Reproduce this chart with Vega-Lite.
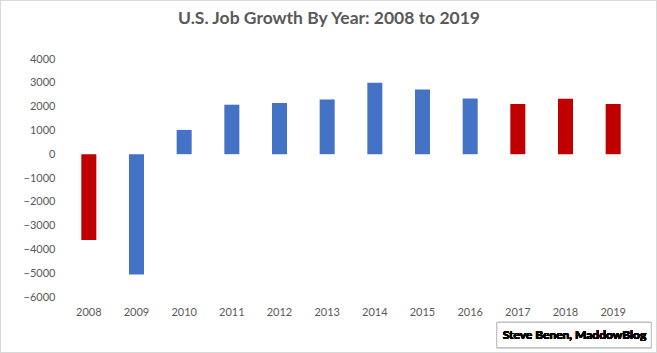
{
  "$schema": "https://vega.github.io/schema/vega-lite/v6.json",
  "autosize": {"type": "none"},
  "width": 572,
  "height": 238,
  "padding": {"left": 65, "top": 59, "right": 20, "bottom": 56},
  "background": "white",
  "config": {
    "view": {"stroke": null},
    "font": "Lato",
    "axis": {"labelFont": "Lato", "labelColor": "#595959", "labelFontSize": 11, "domain": false, "ticks": false, "title": null, "labelOverlap": false}
  },
  "title": {
    "text": "U.S. Job Growth By Year: 2008 to 2019",
    "font": "Lato",
    "fontSize": 17.5,
    "fontWeight": "bold",
    "color": "#595959",
    "anchor": "middle",
    "frame": "group",
    "dx": -22,
    "offset": -28
  },
  "data": {
    "values": [
      {"year": 2008, "jobs": -3600, "party": "Republican"},
      {"year": 2009, "jobs": -5050, "party": "Democratic"},
      {"year": 2010, "jobs": 1020, "party": "Democratic"},
      {"year": 2011, "jobs": 2080, "party": "Democratic"},
      {"year": 2012, "jobs": 2150, "party": "Democratic"},
      {"year": 2013, "jobs": 2300, "party": "Democratic"},
      {"year": 2014, "jobs": 3000, "party": "Democratic"},
      {"year": 2015, "jobs": 2720, "party": "Democratic"},
      {"year": 2016, "jobs": 2340, "party": "Democratic"},
      {"year": 2017, "jobs": 2110, "party": "Republican"},
      {"year": 2018, "jobs": 2330, "party": "Republican"},
      {"year": 2019, "jobs": 2110, "party": "Republican"}
    ]
  },
  "layer": [
    {
      "mark": {"type": "rect", "fill": null, "stroke": "#D9D9D9", "strokeWidth": 1, "clip": false},
      "encoding": {
        "x": {"datum": 2008, "type": "ordinal", "bandPosition": -5.383, "axis": {"labelAngle": 0, "labelPadding": 9}},
        "x2": {"datum": 2019, "bandPosition": 3.386},
        "y": {"datum": 6458, "type": "quantitative", "axis": {"values": [-6000, -5000, -4000, -3000, -2000, -1000, 0, 1000, 2000, 3000, 4000], "gridColor": "#D9D9D9", "gridWidth": 1, "labelPadding": 10, "format": "d"}},
        "y2": {"datum": -8332}
      }
    },
    {
      "mark": {"type": "bar"},
      "encoding": {
        "x": {
          "field": "year",
          "type": "ordinal",
          "scale": {"paddingInner": 0.685, "paddingOuter": 0.3425},
          "axis": {"labelAngle": 0, "labelPadding": 9}
        },
        "y": {
          "field": "jobs",
          "type": "quantitative",
          "scale": {"domain": [-6000, 4000], "nice": false, "zero": false},
          "axis": {"values": [-6000, -5000, -4000, -3000, -2000, -1000, 0, 1000, 2000, 3000, 4000], "gridColor": "#D9D9D9", "gridWidth": 1, "labelPadding": 10, "format": "d"}
        },
        "color": {
          "field": "party",
          "type": "nominal",
          "scale": {"domain": ["Republican", "Democratic"], "range": ["#C00000", "#4472C4"]},
          "legend": null
        }
      }
    },
    {
      "mark": {"type": "rect", "fill": "white", "stroke": "#BFBFBF", "strokeWidth": 1},
      "encoding": {
        "x": {"datum": 2017, "type": "ordinal", "bandPosition": -0.9, "axis": {"labelAngle": 0, "labelPadding": 9}},
        "x2": {"datum": 2019, "bandPosition": 3.04},
        "y": {"datum": -7070, "type": "quantitative", "axis": {"values": [-6000, -5000, -4000, -3000, -2000, -1000, 0, 1000, 2000, 3000, 4000], "gridColor": "#D9D9D9", "gridWidth": 1, "labelPadding": 10, "format": "d"}},
        "y2": {"datum": -8126}
      }
    },
    {
      "mark": {"type": "text", "font": "Lato", "fontSize": 12, "fontWeight": "bold", "color": "#000000", "baseline": "middle", "align": "center"},
      "encoding": {
        "x": {"datum": 2018, "type": "ordinal", "bandPosition": 1.1, "axis": {"labelAngle": 0, "labelPadding": 9}},
        "y": {"datum": -7600, "type": "quantitative", "axis": {"values": [-6000, -5000, -4000, -3000, -2000, -1000, 0, 1000, 2000, 3000, 4000], "gridColor": "#D9D9D9", "gridWidth": 1, "labelPadding": 10, "format": "d"}},
        "text": {"value": "Steve Benen, MaddowBlog"}
      }
    }
  ]
}
